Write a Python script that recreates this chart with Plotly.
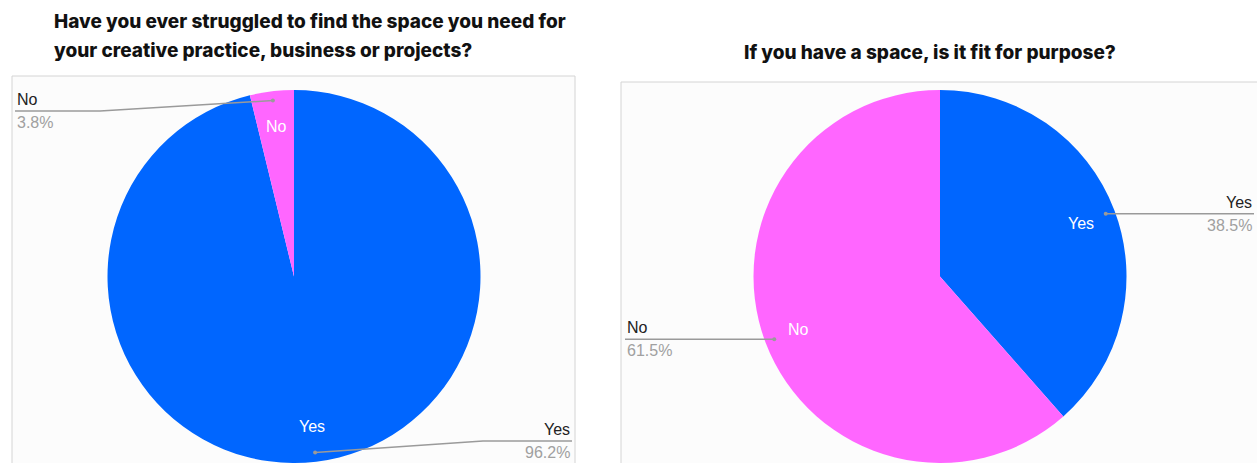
import math
import plotly.graph_objects as go

W, H = 1257, 463

# Survey answers
labels = ["Yes", "No"]
struggled_pct = [96.2, 3.8]
fit_pct = [38.5, 61.5]
slice_colors = ["#0066ff", "#ff66ff"]

title_left_lines = ["Have you ever struggled to find the space you need for",
                    "your creative practice, business or projects?"]
title_right = "If you have a space, is it fit for purpose?"

# Pie geometry in pixels
R = 186.5
CY = 276.5
CX_LEFT, CX_RIGHT = 294, 940

# Leader-line layout per chart: for each slice (side, line y, elbow x, end x)
leaders_left = {
    "Yes": dict(side="right", line_y=441, elbow_x=483, end_x=572),
    "No": dict(side="left", line_y=111, elbow_x=100, end_x=15),
}
leaders_right = {
    "Yes": dict(side="right", line_y=None, elbow_x=None, end_x=1254),
    "No": dict(side="left", line_y=None, elbow_x=None, end_x=625),
}

LABEL_FONT = "Liberation Sans"
LABEL_SIZE = 16


def px(x):
    return x / W


def py(y):
    return 1 - y / H


def mid_angle(values, i):
    total = sum(values)
    start = sum(values[:i]) / total * 360
    return math.radians(start + values[i] / total * 180)


def polar(cx, a, frac):
    return cx + frac * R * math.sin(a), CY - frac * R * math.cos(a)


fig = go.Figure()
shapes = []
annotations = []

# Panel backgrounds
for x0, x1, y0 in [(12, 575, 76), (621, 1262, 82)]:
    shapes.append(dict(type="rect", xref="paper", yref="paper",
                       x0=px(x0), x1=px(x1), y0=py(470), y1=py(y0),
                       fillcolor="#fcfcfc", line=dict(color="#d4d4d4", width=1),
                       layer="below"))


def add_pie(values, cx, leaders):
    fig.add_trace(go.Pie(
        labels=labels, values=values, sort=False, direction="clockwise",
        rotation=0, marker=dict(colors=slice_colors, line=dict(width=0)),
        textinfo="none", hoverinfo="label+percent", showlegend=False,
        domain=dict(x=[px(cx - R), px(cx + R)], y=[0, py(CY - R)]),
    ))
    for i, (lab, v) in enumerate(zip(labels, values)):
        a = mid_angle(values, i)
        tx, ty = polar(cx, a, 0.81)
        annotations.append(dict(x=px(tx), y=py(ty), xref="paper", yref="paper",
                                text=lab, showarrow=False, xanchor="center", yanchor="middle",
                                font=dict(color="white", size=LABEL_SIZE, family=LABEL_FONT)))
        dx, dy = polar(cx, a, 0.95)
        spec = leaders[lab]
        line_y = spec["line_y"] if spec["line_y"] is not None else dy
        elbow_x = spec["elbow_x"] if spec["elbow_x"] is not None else dx
        end_x = spec["end_x"]
        path = (f"M {px(dx)},{py(dy)} L {px(elbow_x)},{py(line_y)} "
                f"L {px(end_x)},{py(line_y)}")
        shapes.append(dict(type="path", xref="paper", yref="paper", path=path,
                           line=dict(color="#9a9a9a", width=1.5)))
        shapes.append(dict(type="circle", xref="paper", yref="paper",
                           x0=px(dx - 2), x1=px(dx + 2), y0=py(dy + 2), y1=py(dy - 2),
                           fillcolor="#9a9a9a", line=dict(width=0)))
        anchor = "right" if spec["side"] == "right" else "left"
        annotations.append(dict(x=px(end_x), y=py(line_y - 1), xref="paper", yref="paper",
                                text=lab, showarrow=False, xanchor=anchor, yanchor="bottom",
                                font=dict(color="#222222", size=LABEL_SIZE, family=LABEL_FONT)))
        annotations.append(dict(x=px(end_x), y=py(line_y + 1), xref="paper", yref="paper",
                                text=f"{v:.1f}%", showarrow=False, xanchor=anchor, yanchor="top",
                                font=dict(color="#a0a0a0", size=LABEL_SIZE, family=LABEL_FONT)))


add_pie(struggled_pct, CX_LEFT, leaders_left)
add_pie(fit_pct, CX_RIGHT, leaders_right)

title_font = dict(family="Inter", size=19, color="#111111", weight=800)
for line, ypix in zip(title_left_lines, [21, 51]):
    annotations.append(dict(x=px(52), y=py(ypix), xref="paper", yref="paper", text=line,
                            showarrow=False, font=title_font, xanchor="left", yanchor="middle"))
annotations.append(dict(x=px(930), y=py(52), xref="paper", yref="paper", text=title_right,
                        showarrow=False, font=title_font, xanchor="center", yanchor="middle"))

fig.update_layout(
    width=W, height=H, margin=dict(l=0, r=0, t=0, b=0),
    paper_bgcolor="white", plot_bgcolor="white",
    shapes=shapes, annotations=annotations,
)

fig.write_html("out.html")
